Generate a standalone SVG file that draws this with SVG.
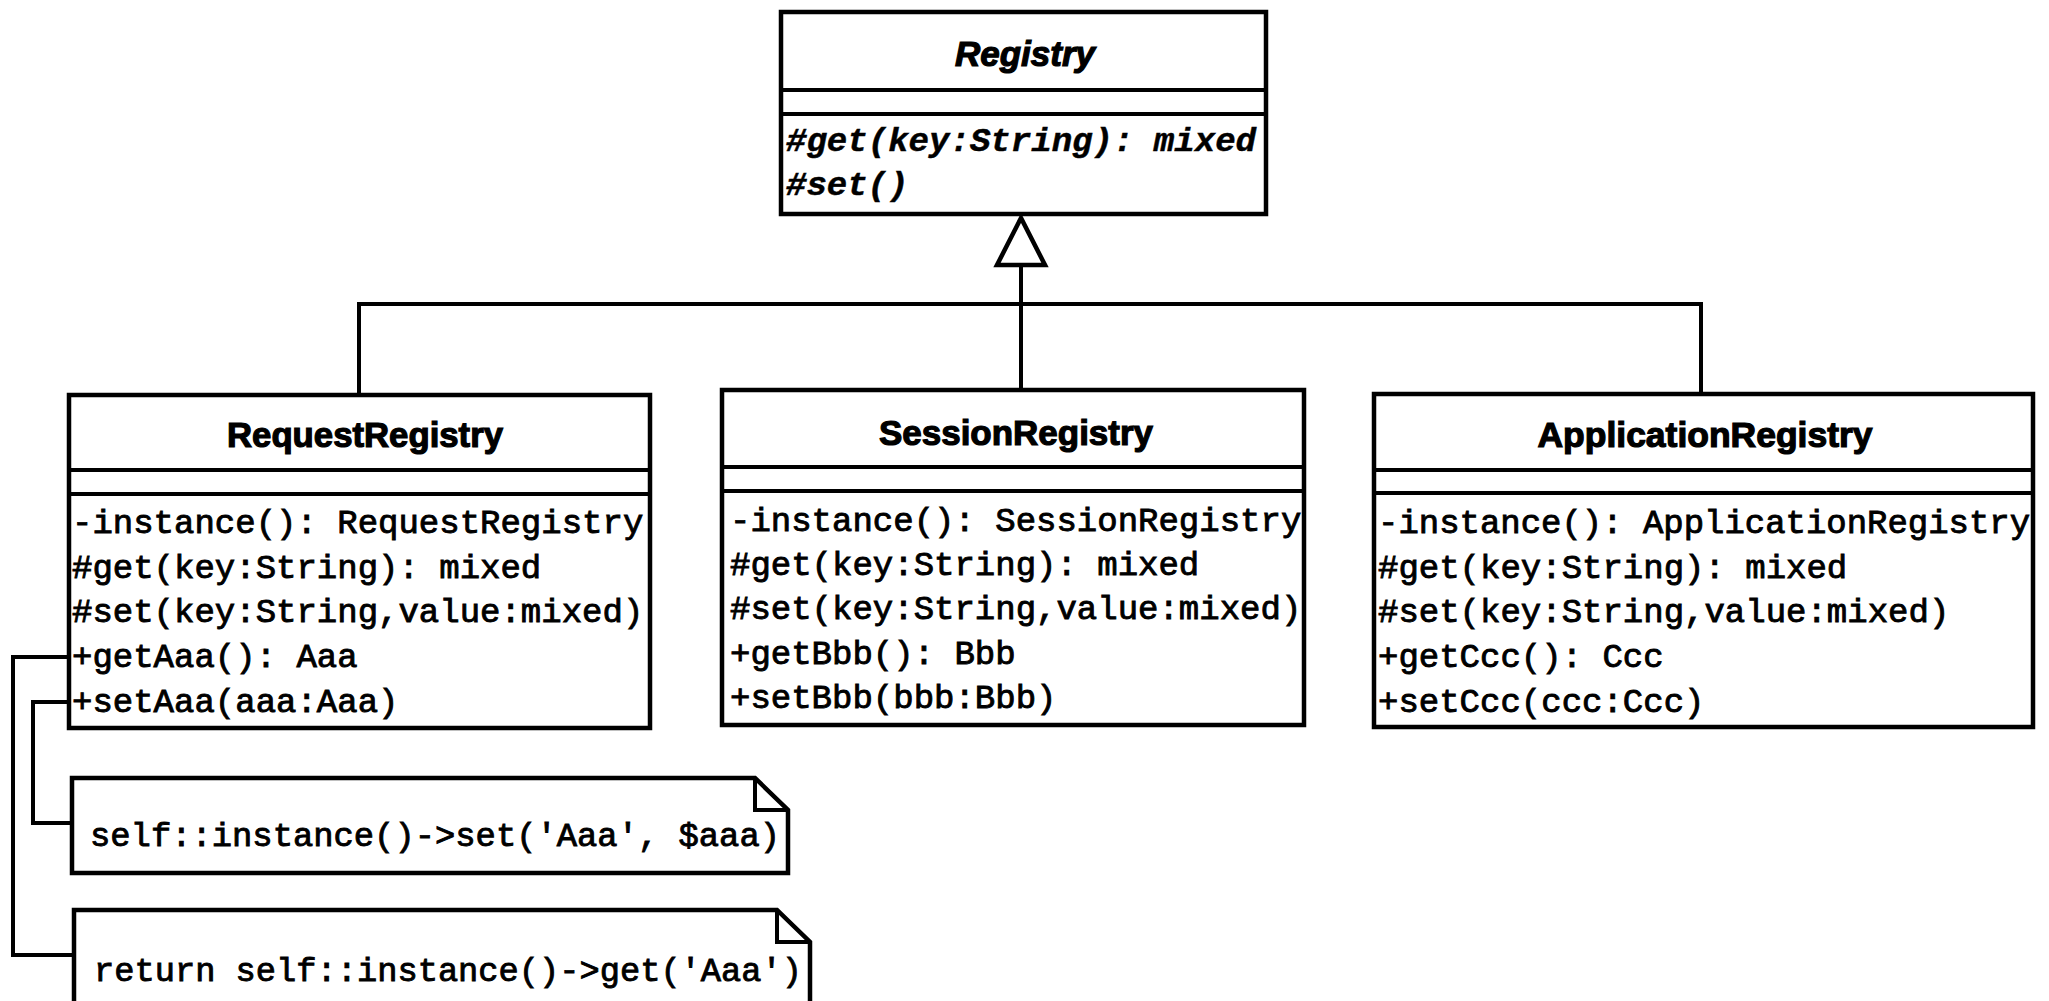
<svg xmlns="http://www.w3.org/2000/svg" width="2049" height="1001" viewBox="0 0 2049 1001">
<style>
.box{fill:#fff;stroke:#000;stroke-width:4.5}
.div{stroke:#000;stroke-width:4;fill:none}
.ln{stroke:#000;stroke-width:4;fill:none}
.name{font-family:"Liberation Sans",Arial,sans-serif;font-weight:bold;font-size:35px;text-anchor:middle;fill:#000;stroke:#000;stroke-width:1.2}
.m{font-family:"Liberation Mono","Courier New",monospace;font-size:34px;fill:#000;stroke:#000;stroke-width:0.9}
.mi{font-family:"Liberation Mono","Courier New",monospace;font-size:34px;font-weight:bold;font-style:italic;fill:#000;stroke:#000;stroke-width:0.5}
</style>
<rect width="2049" height="1001" fill="#fff"/>
<g id="connectors">
<polyline class="ln" points="359,395 359,304 1701,304 1701,393"/>
<line class="ln" x1="1021" y1="265" x2="1021" y2="390"/>
<polygon points="1021,218 997,265 1045,265" fill="#fff" stroke="#000" stroke-width="4.5" stroke-linejoin="miter"/>
<polyline class="ln" points="69,657 13,657 13,955 74,955"/>
<polyline class="ln" points="69,702 33,702 33,823 72,823"/>
</g>
<g id="Registry">
<rect class="box" x="781" y="12" width="485" height="202"/>
<line class="div" x1="781" y1="90" x2="1266" y2="90"/>
<line class="div" x1="781" y1="114" x2="1266" y2="114"/>
<text class="name" x="1025" y="66" font-style="italic" textLength="140" lengthAdjust="spacingAndGlyphs">Registry</text>
<text class="mi" x="786" y="151" textLength="470" lengthAdjust="spacingAndGlyphs">#get(key:String): mixed</text>
<text class="mi" x="786" y="195">#set()</text>
</g>
<g id="RequestRegistry">
<rect class="box" x="69" y="395" width="581" height="333"/>
<line class="div" x1="69" y1="470" x2="650" y2="470"/>
<line class="div" x1="69" y1="494" x2="650" y2="494"/>
<text class="name" x="365" y="447" textLength="276" lengthAdjust="spacingAndGlyphs">RequestRegistry</text>
<text class="m" x="72" y="533">-instance(): RequestRegistry</text>
<text class="m" x="72" y="578">#get(key:String): mixed</text>
<text class="m" x="72" y="622">#set(key:String,value:mixed)</text>
<text class="m" x="72" y="667">+getAaa(): Aaa</text>
<text class="m" x="72" y="712">+setAaa(aaa:Aaa)</text>
</g>
<g id="SessionRegistry">
<rect class="box" x="722" y="390" width="582" height="335"/>
<line class="div" x1="722" y1="467" x2="1304" y2="467"/>
<line class="div" x1="722" y1="491" x2="1304" y2="491"/>
<text class="name" x="1016" y="445" textLength="274" lengthAdjust="spacingAndGlyphs">SessionRegistry</text>
<text class="m" x="730" y="531">-instance(): SessionRegistry</text>
<text class="m" x="730" y="575">#get(key:String): mixed</text>
<text class="m" x="730" y="619">#set(key:String,value:mixed)</text>
<text class="m" x="730" y="664">+getBbb(): Bbb</text>
<text class="m" x="730" y="708">+setBbb(bbb:Bbb)</text>
</g>
<g id="ApplicationRegistry">
<rect class="box" x="1374" y="394" width="659" height="333"/>
<line class="div" x1="1374" y1="470" x2="2033" y2="470"/>
<line class="div" x1="1374" y1="493" x2="2033" y2="493"/>
<text class="name" x="1705" y="447" textLength="335" lengthAdjust="spacingAndGlyphs">ApplicationRegistry</text>
<text class="m" x="1378" y="533" textLength="652" lengthAdjust="spacingAndGlyphs">-instance(): ApplicationRegistry</text>
<text class="m" x="1378" y="578">#get(key:String): mixed</text>
<text class="m" x="1378" y="622">#set(key:String,value:mixed)</text>
<text class="m" x="1378" y="667">+getCcc(): Ccc</text>
<text class="m" x="1378" y="712">+setCcc(ccc:Ccc)</text>
</g>
<g id="note-set">
<polygon class="box" points="72,778 755,778 788,810 788,873 72,873"/>
<polyline class="div" points="755,778 755,810 788,810"/>
<text class="m" x="90" y="846" textLength="690" lengthAdjust="spacingAndGlyphs">self::instance()-&gt;set('Aaa', $aaa)</text>
</g>
<g id="note-get">
<polygon class="box" points="74,910 777,910 810,942 810,1010 74,1010"/>
<polyline class="div" points="777,910 777,942 810,942"/>
<text class="m" x="94" y="981" textLength="708" lengthAdjust="spacingAndGlyphs">return self::instance()-&gt;get('Aaa')</text>
</g>
</svg>
